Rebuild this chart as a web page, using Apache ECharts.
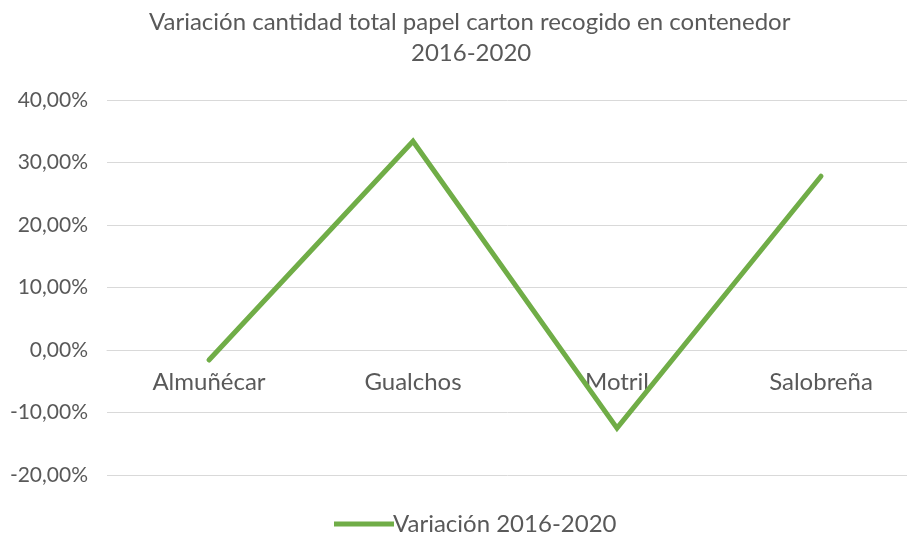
<!DOCTYPE html>
<html><head><meta charset="utf-8">
<script src="https://cdn.jsdelivr.net/npm/echarts@6/dist/echarts.min.js"></script>
<style>html,body{margin:0;padding:0;background:#fff}#c{width:907px;height:535px}</style>
</head><body><div id="c"></div>
<script>
const categories = ['Almuñécar', 'Gualchos', 'Motril', 'Salobreña'];
const values = [-0.016, 0.334, -0.125, 0.278];
const seriesName = 'Variación 2016-2020';
const titleLine1 = 'Variación cantidad total papel carton recogido en contenedor';
const titleLine2 = '2016-2020';

const titleStyle = { fontFamily: 'Lato', fontSize: 24, fontWeight: 'normal', color: '#595959' };
const chart = echarts.init(document.getElementById('c'));
chart.setOption({
  animation: false,
  textStyle: { fontFamily: 'Lato' },
  title: [
    { text: titleLine1, left: 144, top: 5, textStyle: titleStyle },
    { text: titleLine2, left: 406, top: 36, textStyle: titleStyle }
  ],
  legend: {
    bottom: -6, left: 329, itemWidth: 60, itemHeight: 5, itemGap: 4,
    textStyle: { fontFamily: 'Lato', fontSize: 24, color: '#595959', padding: [0,0,0,-6] },
    data: [{ name: seriesName, icon: 'path://M0,0 L60,0 L60,5 L0,5 Z' }]
  },
  grid: { left: 107, top: 100, width: 816, height: 375, outerBoundsMode: 'none', containLabel: false },
  xAxis: {
    type: 'category', data: categories, offset: -125,
    axisLine: { onZero: false, lineStyle: { color: '#d9d9d9', width: 1 } },
    axisTick: { show: false },
    axisLabel: { fontFamily: 'Lato', fontSize: 24, color: '#595959', margin: 20 }
  },
  yAxis: {
    type: 'value', min: -0.2, max: 0.4, interval: 0.1,
    axisLine: { show: false }, axisTick: { show: false },
    splitLine: { lineStyle: { color: '#d9d9d9', width: 1 } },
    axisLabel: {
      fontFamily: 'Lato', fontSize: 21, color: '#595959', margin: 19,
      formatter: v => (v * 100).toFixed(2).replace('.', ',') + '%'
    }
  },
  series: [{
    name: seriesName, type: 'line', data: values,
    symbol: 'none', lineStyle: { color: '#70ad47', width: 5, cap: 'round', join: 'miter' },
    itemStyle: { color: '#70ad47' }
  }]
});
</script></body></html>
